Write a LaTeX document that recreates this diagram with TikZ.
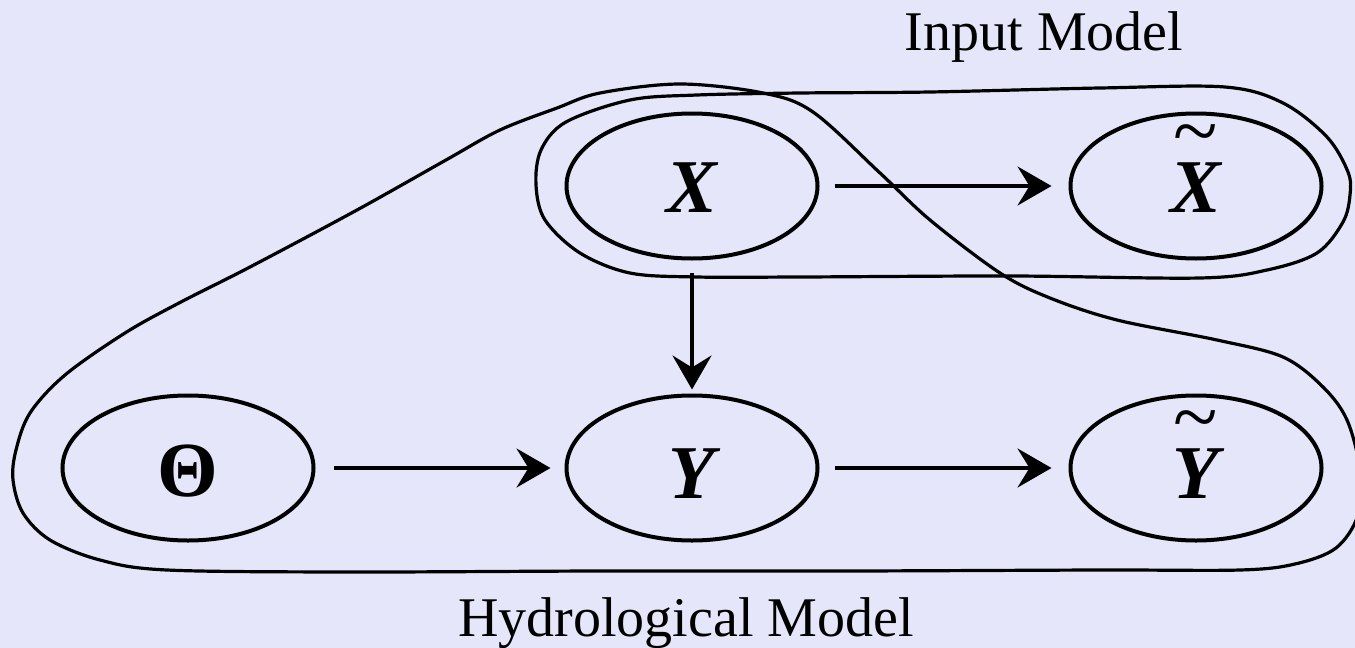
\documentclass[tikz,border=0pt]{standalone}
\usepackage{fontspec}
\setmainfont{Liberation Serif}
\usetikzlibrary{arrows.meta,shapes.geometric}
\definecolor{bgc}{RGB}{230,230,250}
\newcommand{\tildeon}[1]{\setbox0=\hbox{#1}\rlap{\hbox to\wd0{\hss\raisebox{27pt}[0pt][0pt]{\upshape\mdseries\fontsize{41}{44}\selectfont\char"7E}\hss}}\box0}
\newcommand{\down}[2]{\raisebox{-#1}[\height][\depth]{#2}}
\begin{document}
\begin{tikzpicture}[x=0.5pt,y=-0.5pt,
  var/.style={draw, line width=2pt, ellipse, minimum width=125.5pt, minimum height=72.5pt, inner sep=0pt,
              font=\fontsize{38}{42}\selectfont\bfseries\itshape},
  arr/.style={line width=1.75pt, -{Stealth[length=17pt,width=19.5pt,inset=6pt]}},
  grp/.style={line width=1.6pt, line join=round},
  lab/.style={font=\fontsize{28}{30}\selectfont, anchor=base, inner sep=0pt}]
\useasboundingbox (0,0) rectangle (1355,648);
\fill[bgc] (0,0) rectangle (1355,648);

\node[var] (x)  at (692,186)  {\down{1pt}{X}};
\node[var] (xt) at (1196,186) {\down{1pt}{\tildeon{X}}};
\node[var] (th) at (188,468)  {\down{1.5pt}{\upshape\fontsize{39}{42}\selectfont Θ}};
\node[var] (y)  at (692,468)  {\down{3pt}{Y}};
\node[var] (yt) at (1196,468) {\down{3pt}{\tildeon{Y}}};

\draw[arr, shorten <=7.5pt, shorten >=8.5pt] (x.east) -- (xt.west);
\draw[arr, shorten <=9pt, shorten >=7pt] (th.east) -- (y.west);
\draw[arr, shorten <=6.25pt, shorten >=2pt] (x.south) -- (y.north);
\draw[arr, shorten <=7.75pt, shorten >=8.5pt] (y.east) -- (yt.west);

% Input Model group
\draw[grp] plot[smooth cycle, tension=0.55] coordinates {
 (630,100) (697,95) (800,93) (930,92) (1100,88) (1225,87) (1283,103) (1327,137)
 (1348,172) (1350,195) (1343,222) (1317,253) (1267,270) (1200,278) (1012,276)
 (800,277) (697,277) (630,273) (580,253) (545,220) (536,185) (541,150) (566,122)};

% Hydrological Model group
\draw[grp] plot[smooth cycle, tension=0.55] coordinates {
 (680,84) (763,93) (813,112) (880,173) (930,220) (1000,273) (1050,298) (1117,320)
 (1217,340) (1283,357) (1323,387) (1347,420) (1360,470) (1358,515) (1336,548)
 (1295,564) (1240,570) (1100,570) (850,571) (600,571) (350,572) (167,570) (100,560) (50,540) (23,513)
 (13,480) (16,450) (30,413) (65,375) (125,333) (179,303) (250,267) (357,210)
 (446,160) (500,130) (557,108) (600,93)};

\node[lab] (inp) at (1044,50) {Input Model};
\node[lab] (hyd) at (686,636) {Hydrological Model};
\end{tikzpicture}
\end{document}
